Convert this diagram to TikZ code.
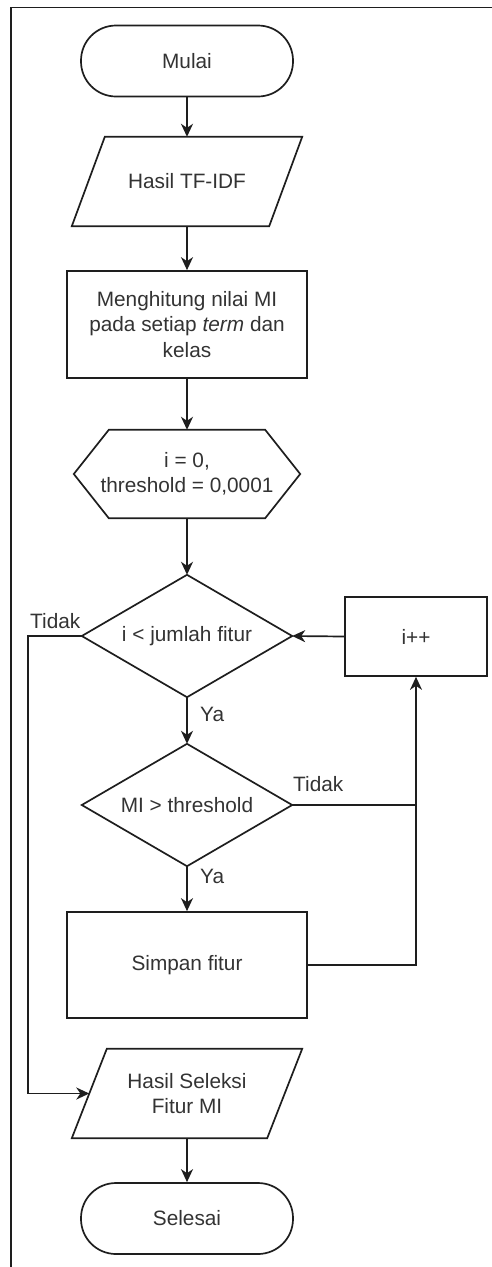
\documentclass[tikz,border=0pt]{standalone}
\usepackage{fontspec}
\setmainfont{Liberation Sans}
\usetikzlibrary{arrows.meta}
\definecolor{ink}{HTML}{1E1E1E}
\definecolor{txt}{HTML}{333333}
\begin{document}
\begin{tikzpicture}[x=1pt,y=-1pt,
  every node/.style={font=\fontsize{20.8}{25.5}\selectfont, text=txt},
  base/.style={draw=ink, line width=1.7pt, inner sep=0pt, align=center},
  term/.style={base, rectangle, rounded corners=35pt, minimum width=212pt, minimum height=71pt},
  iobox/.style={rectangle, inner sep=0pt, align=center, minimum width=230pt, minimum height=89pt},
  proc/.style={base, rectangle, minimum width=240pt, minimum height=107pt},
  hexbox/.style={rectangle, inner sep=0pt, align=center, minimum width=226pt, minimum height=88pt},
  decbox/.style={rectangle, inner sep=0pt, align=center, minimum width=210pt, minimum height=122pt},
  con/.style={draw=ink, line width=1.7pt},
  arr/.style={con, -{Stealth[length=13pt,width=12pt,inset=4pt]}},
  lbl/.style={anchor=west, inner sep=0pt}
]
\useasboundingbox (0,0) rectangle (491,1267);
% page frame
\draw[con, line width=1.4pt] (11,1270) -- (11,7.5) -- (495,7.5);

% flow nodes
\node[term] (start) at (187,61) {Mulai};
\node[iobox] (tfidf) at (187,181.5) {Hasil TF-IDF};
\draw[con] ([xshift=33pt]tfidf.north west) -- (tfidf.north east) -- ([xshift=-33pt]tfidf.south east)
  -- (tfidf.south west) -- cycle;
\node[proc] (mi) at (187,324.5) {Menghitung nilai MI\\pada setiap \textit{term} dan\\kelas};
\node[hexbox] (init) at (187,474) {i = 0,\\threshold = 0,0001};
\draw[con] (init.west) -- ([xshift=35pt]init.north west) -- ([xshift=-35pt]init.north east)
  -- (init.east) -- ([xshift=-35pt]init.south east) -- ([xshift=35pt]init.south west) -- cycle;
\node[decbox] (loop) at (187,636) {i < jumlah fitur};
\draw[con] (loop.north) -- (loop.east) -- (loop.south) -- (loop.west) -- cycle;
\node[base, rectangle, minimum width=142pt, minimum height=79pt] (inc) at (416,636.5) {i++};
\node[decbox] (cmp) at (187,805) {MI > threshold};
\draw[con] (cmp.north) -- (cmp.east) -- (cmp.south) -- (cmp.west) -- cycle;
\node[base, rectangle, minimum width=240pt, minimum height=106pt] (save) at (187,965) {Simpan fitur};
\node[iobox] (result) at (187,1093.5) {Hasil Seleksi\\Fitur MI};
\draw[con] ([xshift=35pt]result.north west) -- (result.north east) -- ([xshift=-35pt]result.south east)
  -- (result.south west) -- cycle;
\coordinate (resultin) at ([xshift=17.5pt]result.west);
\node[term] (stop) at (187,1218.5) {Selesai};

% connectors
\draw[arr] (start.south) -- (tfidf.north);
\draw[arr] (tfidf.south) -- (mi.north);
\draw[arr] (mi.south) -- (init.north);
\draw[arr] (init.south) -- (loop.north);
\draw[arr] (loop.south) -- (cmp.north);
\draw[arr] (cmp.south) -- (save.north);
\draw[arr] (inc.west) -- (loop.east);
\draw[arr] (save.east) -| (inc.south);
\draw[con] (cmp.east) -- (cmp.east -| inc.south);
\draw[arr] (loop.west) -- ++(-54,0) |- (resultin);
\draw[arr] (result.south) -- (stop.north);

% branch labels
\node[lbl] (no1) at (30,621) {Tidak};
\node[lbl] (yes1) at (200,714) {Ya};
\node[lbl] (no2) at (293,784) {Tidak};
\node[lbl] (yes2) at (200,876) {Ya};
\end{tikzpicture}
\end{document}
